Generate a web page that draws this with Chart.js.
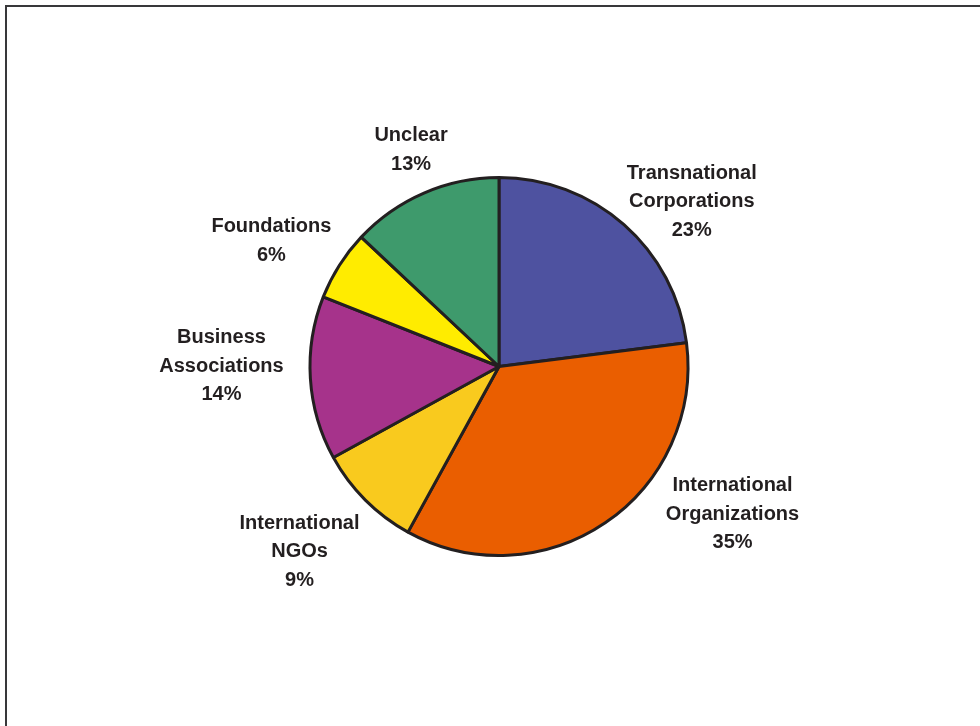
<!DOCTYPE html>
<html>
<head>
<meta charset="utf-8">
<script src="https://cdn.jsdelivr.net/npm/chart.js@4"></script>
<style>
  html, body { margin: 0; padding: 0; background: #fff; }
  #wrap { position: relative; width: 980px; height: 726px; overflow: hidden; }
  #frame {
    position: absolute; left: 5px; top: 5px; width: 1000px; height: 800px;
    border-top: 2px solid #38383a; border-left: 2px solid #38383a;
  }
  canvas { position: absolute; left: 0; top: 0; }
</style>
</head>
<body>
<div id="wrap">
  <div id="frame"></div>
  <canvas id="pieChart" width="980" height="726"></canvas>
</div>
<script>
const sources = [
  ["Transnational", "Corporations"],
  ["International", "Organizations"],
  ["International", "NGOs"],
  ["Business", "Associations"],
  ["Foundations"],
  ["Unclear"]
]
const shares = [23, 35, 9, 14, 6, 13]
const sliceColors = ["#4e52a0", "#ea5e00", "#f9ca1e", "#a6338b", "#ffec00", "#3e9a6c"]

// hand placed label offsets, relative to a point just outside each slice
const labelGap = 45
const labelNudge = [[38, 11], [102, -46], [-34, 20], [-44, -15], [-30, 0], [5, -2]]

const sliceLabels = {
  id: 'sliceLabels',
  afterDatasetsDraw(chart) {
    const ctx = chart.ctx
    const meta = chart.getDatasetMeta(0)
    ctx.save()
    ctx.font = "bold 20px 'Liberation Sans', Arial, sans-serif"
    ctx.fillStyle = "#231f20"
    ctx.textAlign = "center"
    ctx.textBaseline = "middle"
    meta.data.forEach((arc, i) => {
      const mid = (arc.startAngle + arc.endAngle) / 2
      const r = arc.outerRadius + labelGap
      const x = arc.x + Math.cos(mid) * r + labelNudge[i][0]
      const y = arc.y + Math.sin(mid) * r + labelNudge[i][1]
      const lines = chart.data.labels[i].concat([shares[i] + "%"])
      const lh = 28.5
      const top = y - (lines.length - 1) * lh / 2
      lines.forEach((t, k) => ctx.fillText(t, x, top + k * lh))
    })
    ctx.restore()
  }
}

new Chart(document.getElementById('pieChart').getContext('2d'), {
  type: 'pie',
  data: {
    labels: sources,
    datasets: [{
      data: shares,
      backgroundColor: sliceColors,
      borderColor: "#231f20",
      borderWidth: 3
    }]
  },
  options: {
    responsive: false,
    animation: false,
    layout: { padding: { left: 308, right: 290, top: 176, bottom: 169 } },
    plugins: {
      legend: { display: false },
      tooltip: { enabled: false },
      title: { display: false }
    }
  },
  plugins: [sliceLabels]
})
</script>
</body>
</html>
